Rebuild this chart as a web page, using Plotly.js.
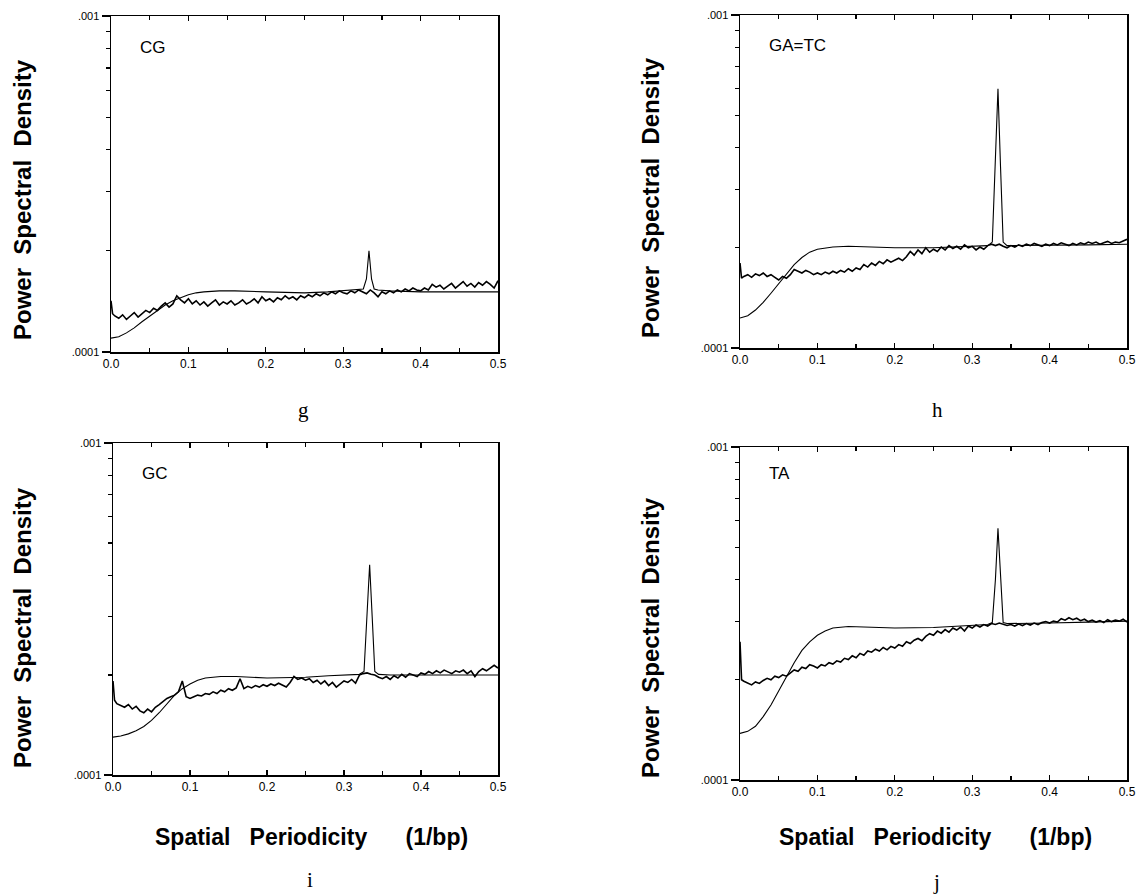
<!DOCTYPE html>
<html>
<head>
<meta charset="utf-8">
<script src="https://cdn.plot.ly/plotly-3.0.1.min.js"></script>
<style>html,body{margin:0;padding:0;background:#fff;}#chart{width:1139px;height:895px;}</style>
</head>
<body>
<div id="chart"></div>
<script>
// Spatial periodicity (1/bp) sample points for the noisy (observed) spectra
var freqNoisy = [0,0.002,0.005,0.01,0.015,0.02,0.025,0.03,0.035,0.04,0.045,0.05,0.055,0.06,0.065,0.07,0.075,0.08,0.085,0.09,0.095,0.1,
  0.105,0.11,0.115,0.12,0.125,0.13,0.135,0.14,0.145,0.15,0.155,0.16,0.165,0.17,0.175,0.18,0.185,0.19,0.195,0.2,
  0.205,0.21,0.215,0.22,0.225,0.23,0.235,0.24,0.245,0.25,0.255,0.26,0.265,0.27,0.275,0.28,0.285,0.29,0.295,0.3,
  0.305,0.31,0.315,0.32,0.325,0.33,0.335,0.34,0.345,0.35,0.355,0.36,0.365,0.37,0.375,0.38,0.385,0.39,0.395,0.4,
  0.405,0.41,0.415,0.42,0.425,0.43,0.435,0.44,0.445,0.45,0.455,0.46,0.465,0.47,0.475,0.48,0.485,0.49,0.495,0.5];

// Sample points for the smooth spectra (with the 1/3 bp^-1 peak)
var freqSmooth = [0,0.01,0.02,0.03,0.04,0.05,0.06,0.07,0.08,0.09,0.1,0.11,0.12,0.14,0.16,0.2,0.25,0.28,0.3,0.32,0.326,0.33,0.3333,0.3366,0.34,0.345,0.36,0.4,0.45,0.5];

// Power spectral density values, in units of 1e-4
var noisyCG = [1.42,1.30,
  1.28,1.26,1.29,1.25,1.28,1.31,1.27,1.30,1.33,1.31,
  1.35,1.33,1.37,1.40,1.36,1.39,1.47,1.43,1.40,1.44,
  1.39,1.42,1.38,1.41,1.37,1.40,1.43,1.38,1.41,1.39,
  1.42,1.38,1.40,1.43,1.39,1.41,1.44,1.40,1.46,1.42,
  1.44,1.41,1.45,1.43,1.47,1.44,1.46,1.43,1.47,1.45,
  1.48,1.46,1.49,1.47,1.50,1.48,1.51,1.49,1.52,1.50,
  1.49,1.52,1.50,1.53,1.51,1.49,1.53,1.50,1.46,1.51,
  1.49,1.52,1.50,1.53,1.51,1.54,1.52,1.55,1.53,1.52,
  1.55,1.53,1.59,1.56,1.58,1.54,1.57,1.60,1.55,1.58,
  1.62,1.57,1.60,1.56,1.61,1.58,1.62,1.59,1.55,1.63];
var smoothCG = [1.10,1.11,1.14,1.18,1.23,1.28,1.33,1.38,1.42,1.45,1.48,1.50,1.51,1.52,1.52,1.51,1.50,1.51,1.52,1.53,1.54,1.65,2.00,1.65,1.54,1.53,1.52,1.51,1.51,1.51];

var noisyGATC = [1.80,1.62,
  1.64,1.66,1.63,1.67,1.65,1.68,1.64,1.66,1.63,1.60,
  1.64,1.62,1.66,1.72,1.70,1.68,1.71,1.69,1.66,1.68,
  1.66,1.69,1.67,1.70,1.68,1.71,1.69,1.73,1.70,1.74,
  1.72,1.78,1.75,1.80,1.77,1.82,1.79,1.84,1.81,1.83,
  1.86,1.83,1.88,1.95,1.90,1.97,1.92,2.00,1.94,1.98,
  1.95,2.01,1.97,2.03,1.99,2.02,1.98,2.04,2.00,2.02,
  1.97,2.01,1.98,2.03,2.05,2.03,2.05,2.02,2.00,2.03,
  2.01,2.04,2.02,2.05,2.03,2.06,2.04,2.02,2.05,2.03,
  2.06,2.04,2.07,2.05,2.03,2.06,2.04,2.07,2.05,2.08,
  2.06,2.08,2.05,2.07,2.09,2.06,2.08,2.07,2.10,2.12];
var smoothGATC = [1.23,1.25,1.30,1.37,1.46,1.56,1.67,1.78,1.87,1.94,1.98,2.00,2.01,2.02,2.01,2.00,2.00,2.01,2.02,2.03,2.08,3.50,6.00,3.50,2.08,2.03,2.03,2.03,2.04,2.05];

var noisyGC = [1.92,1.68,
  1.64,1.62,1.60,1.63,1.58,1.61,1.56,1.54,1.58,1.55,
  1.60,1.63,1.66,1.70,1.72,1.74,1.78,1.92,1.72,1.70,
  1.72,1.74,1.73,1.76,1.75,1.78,1.76,1.80,1.78,1.82,
  1.80,1.83,1.95,1.82,1.85,1.83,1.86,1.84,1.87,1.85,
  1.88,1.86,1.89,1.87,1.84,1.90,1.98,1.94,1.96,1.93,
  1.95,1.90,1.93,1.88,1.92,1.86,1.90,1.84,1.88,1.92,
  1.90,1.94,1.89,2.00,2.02,2.03,2.01,2.00,1.97,1.95,
  1.98,1.94,1.99,1.96,2.01,1.97,2.02,2.00,1.98,2.03,
  2.01,2.05,2.02,2.06,2.03,2.07,2.04,2.02,2.06,2.04,
  2.07,2.02,2.06,1.98,2.05,2.09,2.06,2.10,2.14,2.10];
var smoothGC = [1.30,1.31,1.33,1.36,1.40,1.46,1.54,1.64,1.74,1.82,1.88,1.93,1.96,1.98,1.98,1.96,1.97,1.99,2.00,2.01,2.05,3.00,4.30,3.00,2.05,2.01,2.00,2.00,2.00,2.00];

var noisyTA = [2.60,2.00,
  1.98,1.95,1.93,1.97,1.95,1.99,2.02,2.00,2.05,2.03,
  2.07,2.05,2.10,2.14,2.12,2.18,2.16,2.22,2.20,2.17,
  2.22,2.20,2.25,2.23,2.28,2.26,2.32,2.30,2.36,2.33,
  2.40,2.37,2.44,2.42,2.47,2.44,2.50,2.46,2.52,2.49,
  2.55,2.52,2.60,2.57,2.63,2.66,2.62,2.70,2.75,2.72,
  2.80,2.76,2.83,2.78,2.86,2.82,2.88,2.80,2.90,2.86,
  2.92,2.88,2.93,2.90,2.95,2.93,2.96,2.94,2.91,2.93,
  2.90,2.94,2.91,2.95,2.92,2.96,2.93,2.97,2.99,2.96,
  3.00,2.98,3.05,3.02,3.07,3.03,3.06,3.01,3.04,2.99,
  3.02,2.98,3.01,2.97,3.03,2.99,3.02,3.00,3.04,2.98];
var smoothTA = [1.38,1.40,1.45,1.55,1.68,1.85,2.05,2.25,2.45,2.60,2.72,2.80,2.86,2.89,2.88,2.86,2.87,2.89,2.91,2.93,2.97,4.00,5.70,4.00,2.97,2.95,2.95,2.96,2.98,3.00];

var panelNames = ["CG", "GA=TC", "GC", "TA"];
var panelLetters = ["g", "h", "i", "j"];
var xTickVals = [0, 0.1, 0.2, 0.3, 0.4, 0.5];
var xTickText = ["0.0", "0.1", "0.2", "0.3", "0.4", "0.5"];
var yTickVals = [0.0001, 0.001];
var yTickText = [".0001", ".001"];
var yMinorVals = [0.0002,0.0003,0.0004,0.0005,0.0006,0.0007,0.0008,0.0009];
var xMinorVals = [0.05,0.15,0.25,0.35,0.45];

var W = 1139, H = 895;
function px(x){ return x / W; }
function py(y){ return 1 - y / H; }

// panel boxes in pixels: [left, right, top, bottom]
var boxes = [[111,498,16,352],[740,1127,15,348],[113,498,443,775],[740,1127,447,780]];
var noisySets = [noisyCG, noisyGATC, noisyGC, noisyTA];
var smoothSets = [smoothCG, smoothGATC, smoothGC, smoothTA];
function scale(a){ return a.map(function(v){ return v * 1e-4; }); }

var data = [];
var layout = {
  width: W, height: H,
  margin: {l:0, r:0, t:0, b:0},
  paper_bgcolor: "#fff", plot_bgcolor: "#fff",
  showlegend: false,
  font: {family: "Liberation Sans, Arial, sans-serif", color: "#000"},
  annotations: []
};

var nameOffset = [31, 30, 30, 26];
for (var i = 0; i < 4; i++) {
  var sfx = i === 0 ? "" : String(i + 1);
  data.push({x: freqSmooth, y: scale(smoothSets[i]), type: "scatter", mode: "lines",
    line: {color: "#000", width: 1.1}, xaxis: "x" + sfx, yaxis: "y" + sfx, hoverinfo: "skip"});
  data.push({x: freqNoisy, y: scale(noisySets[i]), type: "scatter", mode: "lines",
    line: {color: "#000", width: 1.6}, xaxis: "x" + sfx, yaxis: "y" + sfx, hoverinfo: "skip"});
  var b = boxes[i];
  layout["xaxis" + sfx] = {
    domain: [px(b[0]), px(b[1])], anchor: "y" + sfx, range: [0, 0.5],
    showgrid: false, zeroline: false, showline: true, linecolor: "#000", linewidth: 1.5, mirror: "ticks",
    ticks: "inside", ticklen: 5, tickwidth: 1.3, tickcolor: "#000",
    tickmode: "array", tickvals: xTickVals, ticktext: xTickText,
    tickfont: {size: 12, family: "Liberation Sans, Arial, sans-serif"},
    minor: {tickmode: "array", tickvals: xMinorVals, ticks: "inside", ticklen: 4, tickwidth: 1.2, tickcolor: "#000", showgrid: false}
  };
  layout["yaxis" + sfx] = {
    domain: [py(b[3]), py(b[2])], anchor: "x" + sfx, type: "log", range: [-4, -3],
    showgrid: false, zeroline: false, showline: true, linecolor: "#000", linewidth: 1.5, mirror: true,
    ticks: "outside", ticklen: 8, tickwidth: 1.2, tickcolor: "#000",
    tickmode: "array", tickvals: yTickVals, ticktext: yTickText,
    tickfont: {size: 11, family: "Liberation Sans, Arial, sans-serif"},
    minor: {tickmode: "array", tickvals: yMinorVals, ticks: "outside", ticklen: 4, tickwidth: 1.2, tickcolor: "#000", showgrid: false}
  };
  // panel name inside plot
  layout.annotations.push({xref: "paper", yref: "paper", x: px(b[0] + 27), y: py(b[2] + nameOffset[i]),
    xanchor: "left", yanchor: "middle", showarrow: false, text: panelNames[i],
    font: {size: 17, family: "Liberation Sans, Arial, sans-serif", color: "#000"}});
}

// y axis titles
var yTitleX = [22, 650, 22, 650];
var yTitleY = [200, 198, 628, 638];
for (var k = 0; k < 4; k++) {
  layout.annotations.push({xref: "paper", yref: "paper", x: px(yTitleX[k]), y: py(yTitleY[k]),
    xanchor: "center", yanchor: "middle", textangle: -90, showarrow: false,
    text: "<b>Power  Spectral  Density</b>",
    font: {size: 24, family: "Liberation Sans, Arial, sans-serif", color: "#000"}});
}
// x axis titles (bottom row only)
var xTitleX = [311, 935];
for (var m = 0; m < 2; m++) {
  layout.annotations.push({xref: "paper", yref: "paper", x: px(xTitleX[m]), y: py(837),
    xanchor: "center", yanchor: "middle", showarrow: false,
    text: "<b>Spatial   Periodicity      (1/bp)</b>",
    font: {size: 23, family: "Liberation Sans, Arial, sans-serif", color: "#000"}});
}
// panel letters
var letterPos = [[303, 410], [937, 410], [310, 880], [936, 882]];
for (var n = 0; n < 4; n++) {
  layout.annotations.push({xref: "paper", yref: "paper", x: px(letterPos[n][0]), y: py(letterPos[n][1]),
    xanchor: "center", yanchor: "middle", showarrow: false, text: panelLetters[n],
    font: {size: 21, family: "Liberation Serif, Times New Roman, serif", color: "#000"}});
}

Plotly.newPlot("chart", data, layout, {staticPlot: true, displayModeBar: false});
</script>
</body>
</html>
